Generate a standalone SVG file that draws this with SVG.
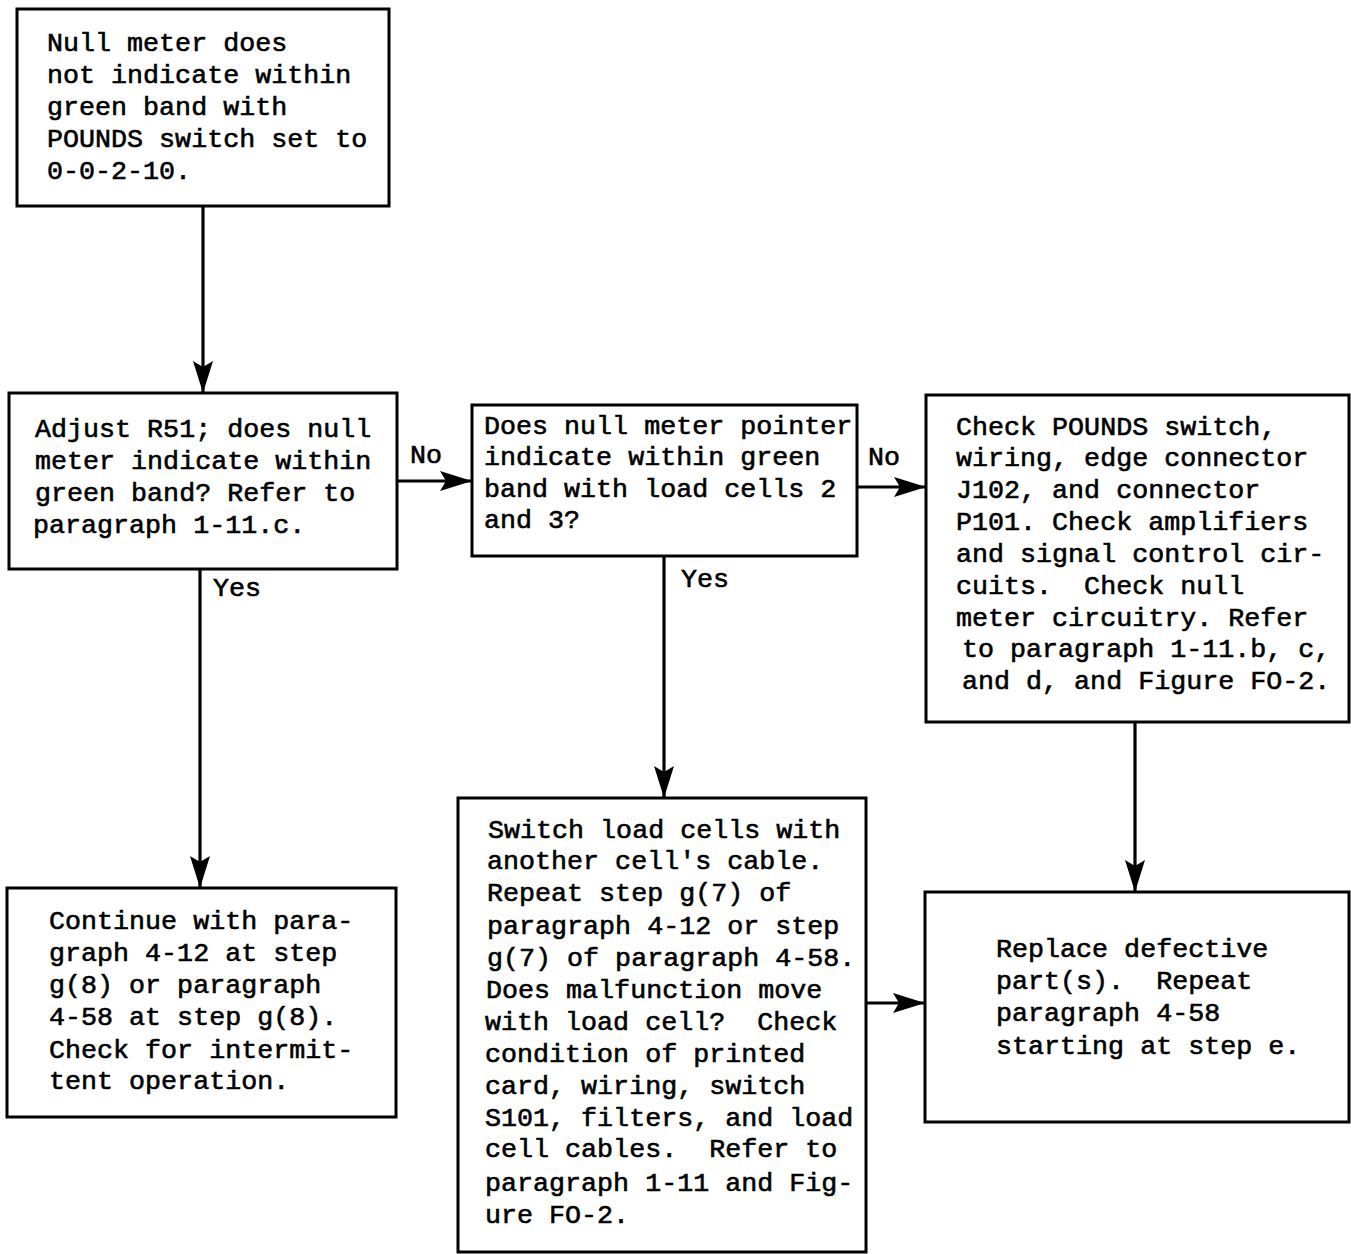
<svg xmlns="http://www.w3.org/2000/svg" width="1351" height="1254" viewBox="0 0 1351 1254">
<style>
.box{fill:#fff;stroke:#000;stroke-width:3}
.t{font-family:"Liberation Mono","Courier New",monospace;font-size:26.7px;fill:#000;stroke:#000;stroke-width:0.6;white-space:pre}
.c{fill:none;stroke:#000;stroke-width:3.2}
</style>
<defs>
<marker id="ah" markerUnits="userSpaceOnUse" markerWidth="34" markerHeight="22" refX="32" refY="11" orient="auto">
<path d="M0,1 L32,11 L0,21 L6,11 z" fill="#000"/>
</marker>
</defs>
<rect width="1351" height="1254" fill="#fff"/>
<g id="connectors">
<line class="c" x1="203" y1="206" x2="203" y2="393" marker-end="url(#ah)"/>
<line class="c" x1="200" y1="569" x2="200" y2="888" marker-end="url(#ah)"/>
<line class="c" x1="397" y1="481" x2="472" y2="481" marker-end="url(#ah)"/>
<line class="c" x1="857" y1="487" x2="926" y2="487" marker-end="url(#ah)"/>
<line class="c" x1="664" y1="556" x2="664" y2="798" marker-end="url(#ah)"/>
<line class="c" x1="1135" y1="722" x2="1135" y2="892" marker-end="url(#ah)"/>
<line class="c" x1="866" y1="1003" x2="925" y2="1003" marker-end="url(#ah)"/>
<text class="t" x="410" y="463">No</text>
<text class="t" x="868" y="465">No</text>
<text class="t" x="213" y="596">Yes</text>
<text class="t" x="681" y="587">Yes</text>
</g>
<g id="n1">
<rect class="box" x="17" y="9" width="372" height="197"/>
<text class="t" x="47" y="51">Null meter does</text>
<text class="t" x="47" y="83">not indicate within</text>
<text class="t" x="47" y="115">green band with</text>
<text class="t" x="47" y="147">POUNDS switch set to</text>
<text class="t" x="47" y="179">0-0-2-10.</text>
</g>
<g id="n2">
<rect class="box" x="9" y="393" width="388" height="176"/>
<text class="t" x="35" y="437">Adjust R51; does null</text>
<text class="t" x="35" y="469">meter indicate within</text>
<text class="t" x="35" y="501">green band? Refer to</text>
<text class="t" x="33" y="533">paragraph 1-11.c.</text>
</g>
<g id="n3">
<rect class="box" x="472" y="405" width="385" height="151"/>
<text class="t" x="484" y="434">Does null meter pointer</text>
<text class="t" x="484" y="465">indicate within green</text>
<text class="t" x="484" y="497">band with load cells 2</text>
<text class="t" x="484" y="528">and 3?</text>
</g>
<g id="n4">
<rect class="box" x="926" y="395" width="423" height="327"/>
<text class="t" x="956" y="435">Check POUNDS switch,</text>
<text class="t" x="956" y="466">wiring, edge connector</text>
<text class="t" x="956" y="498">J102, and connector</text>
<text class="t" x="956" y="530">P101. Check amplifiers</text>
<text class="t" x="956" y="562">and signal control cir-</text>
<text class="t" x="956" y="594">cuits.  Check null</text>
<text class="t" x="956" y="626">meter circuitry. Refer</text>
<text class="t" x="962" y="657">to paragraph 1-11.b, c,</text>
<text class="t" x="962" y="689">and d, and Figure FO-2.</text>
</g>
<g id="n5">
<rect class="box" x="458" y="798" width="408" height="454"/>
<text class="t" x="488" y="838">Switch load cells with</text>
<text class="t" x="487" y="869">another cell's cable.</text>
<text class="t" x="487" y="901">Repeat step g(7) of</text>
<text class="t" x="487" y="934">paragraph 4-12 or step</text>
<text class="t" x="487" y="966">g(7) of paragraph 4-58.</text>
<text class="t" x="486" y="998">Does malfunction move</text>
<text class="t" x="485" y="1030">with load cell?  Check</text>
<text class="t" x="485" y="1062">condition of printed</text>
<text class="t" x="485" y="1094">card, wiring, switch</text>
<text class="t" x="485" y="1126">S101, filters, and load</text>
<text class="t" x="485" y="1157">cell cables.  Refer to</text>
<text class="t" x="485" y="1191">paragraph 1-11 and Fig-</text>
<text class="t" x="485" y="1223">ure FO-2.</text>
</g>
<g id="n6">
<rect class="box" x="7" y="888" width="389" height="229"/>
<text class="t" x="49" y="929">Continue with para-</text>
<text class="t" x="49" y="961">graph 4-12 at step</text>
<text class="t" x="49" y="993">g(8) or paragraph</text>
<text class="t" x="49" y="1025">4-58 at step g(8).</text>
<text class="t" x="49" y="1058">Check for intermit-</text>
<text class="t" x="49" y="1089">tent operation.</text>
</g>
<g id="n7">
<rect class="box" x="925" y="892" width="424" height="230"/>
<text class="t" x="996" y="957">Replace defective</text>
<text class="t" x="996" y="989">part(s).  Repeat</text>
<text class="t" x="996" y="1021">paragraph 4-58</text>
<text class="t" x="996" y="1054">starting at step e.</text>
</g>
</svg>
